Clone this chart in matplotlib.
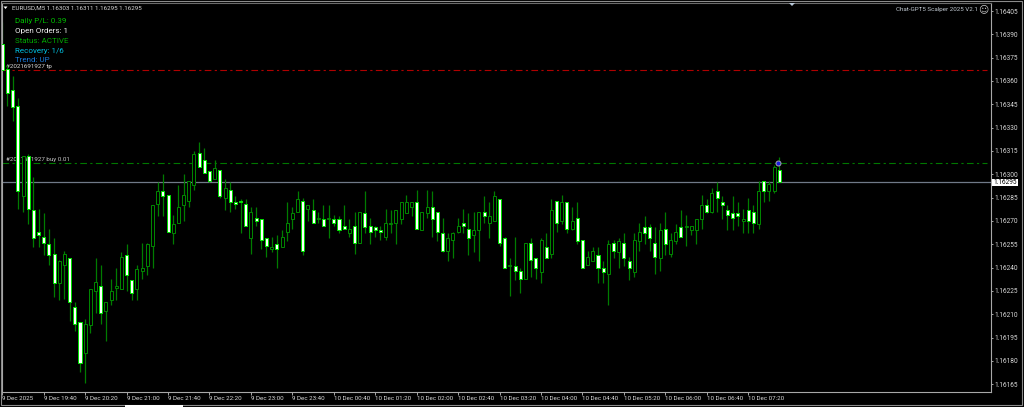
import matplotlib
matplotlib.use("Agg")
import matplotlib.pyplot as plt
from matplotlib.patches import Rectangle, Polygon

plt.rcParams["font.family"] = ["Roboto", "DejaVu Sans"]

# EURUSD M5 bars, in points above 1.16000
opens = [384, 368, 354, 344, 286, 312, 277, 263, 260, 255, 249, 230, 242, 246, 215, 205, 185, 203, 225, 228,
         212, 219, 227, 226, 248, 232, 226, 238, 241, 254, 281, 289, 287, 262, 269, 280, 283, 293, 314, 309,
         302, 297, 303, 285, 290, 282, 283, 281, 259, 272, 271, 259, 252, 255, 253, 263, 271, 276, 283, 278,
         277, 271, 271, 271, 271, 271, 267, 262, 267, 256, 275, 267, 266, 264, 260, 268, 269, 271, 275, 279,
         282, 264, 275, 279, 276, 262, 251, 258, 263, 269, 265, 261, 264, 276, 269, 270, 284, 259, 241, 241,
         238, 233, 256, 246, 237, 253, 249, 283, 270, 282, 265, 272, 258, 242, 244, 248, 240, 236, 256, 250,
         256, 244, 237, 257, 266, 266, 256, 246, 265, 249, 257, 266, 266, 264, 264, 271, 280, 276, 289, 282,
         277, 275, 275, 270, 277, 276, 268, 296, 289, 289, 303]
highs = [398, 370, 363, 349, 312, 313, 298, 278, 275, 265, 259, 245, 251, 246, 218, 205, 207, 226, 246, 242,
         218, 233, 240, 250, 255, 232, 242, 256, 256, 280, 295, 300, 287, 274, 293, 300, 296, 315, 321, 317,
         302, 309, 303, 297, 295, 286, 284, 284, 279, 279, 271, 259, 260, 261, 264, 282, 279, 289, 285, 280,
         284, 276, 280, 280, 274, 273, 280, 271, 276, 276, 289, 272, 267, 267, 278, 277, 277, 282, 287, 282,
         290, 276, 290, 289, 276, 272, 262, 263, 272, 278, 275, 276, 276, 286, 282, 289, 284, 260, 246, 260,
         240, 256, 259, 246, 259, 262, 284, 283, 287, 282, 279, 282, 258, 251, 253, 253, 244, 258, 258, 259,
         262, 247, 262, 269, 273, 268, 266, 269, 276, 262, 268, 277, 274, 267, 271, 287, 284, 291, 295, 286,
         280, 286, 282, 278, 285, 280, 296, 296, 296, 306, 311]
lows = [367, 344, 334, 278, 276, 268, 253, 253, 248, 242, 221, 219, 220, 206, 199, 173, 166, 198, 211, 204,
        193, 216, 219, 226, 225, 219, 219, 233, 235, 240, 273, 273, 263, 255, 269, 270, 279, 290, 305, 301,
        295, 297, 285, 277, 276, 278, 262, 267, 249, 267, 252, 247, 250, 240, 253, 257, 265, 276, 248, 270,
        269, 269, 267, 259, 267, 262, 265, 260, 249, 256, 262, 255, 260, 258, 258, 262, 255, 268, 275, 273,
        265, 264, 272, 260, 257, 250, 244, 246, 262, 262, 248, 250, 244, 269, 259, 270, 254, 240, 222, 232,
        224, 233, 234, 233, 230, 246, 246, 263, 268, 262, 264, 255, 240, 242, 244, 230, 230, 216, 246, 240,
        241, 232, 234, 251, 255, 251, 236, 238, 248, 247, 255, 260, 254, 261, 255, 265, 275, 275, 276, 271,
        264, 264, 267, 262, 262, 262, 265, 282, 283, 288, 295]
closes = [367, 352, 343, 289, 312, 278, 259, 261, 256, 248, 230, 244, 249, 218, 204, 179, 204, 226, 231, 211,
          218, 225, 228, 247, 235, 224, 239, 240, 255, 280, 289, 286, 263, 268, 279, 287, 296, 313, 305, 301,
          296, 304, 286, 291, 282, 281, 282, 267, 276, 270, 258, 254, 253, 252, 260, 269, 275, 284, 251, 280,
          269, 272, 267, 272, 269, 264, 265, 265, 256, 276, 266, 263, 264, 263, 269, 269, 277, 282, 282, 282,
          265, 276, 279, 271, 263, 251, 259, 262, 267, 267, 259, 264, 276, 273, 273, 286, 256, 240, 242, 238,
          233, 256, 245, 240, 258, 246, 277, 269, 282, 265, 270, 257, 240, 247, 251, 240, 237, 255, 251, 257,
          246, 240, 258, 263, 262, 259, 247, 264, 255, 258, 263, 260, 267, 267, 271, 280, 276, 288, 285, 280,
          274, 272, 273, 271, 270, 269, 289, 289, 294, 305, 295]

base_price = 1.16
price_ticks = [1.16405, 1.16390, 1.16375, 1.16360, 1.16345, 1.16330, 1.16315, 1.16300, 1.16285,
               1.16270, 1.16255, 1.16240, 1.16225, 1.16210, 1.16195, 1.16180, 1.16165]
time_ticks = [0, 8, 16, 24, 32, 40, 48, 56, 64, 72, 80, 88, 96, 104, 112, 120, 128, 136, 144]
time_labels = ["9 Dec 2025", "9 Dec 19:40", "9 Dec 20:20", "9 Dec 21:00", "9 Dec 21:40", "9 Dec 22:20",
               "9 Dec 23:00", "9 Dec 23:40", "10 Dec 00:40", "10 Dec 01:20", "10 Dec 02:00", "10 Dec 02:40",
               "10 Dec 03:20", "10 Dec 04:00", "10 Dec 04:40", "10 Dec 05:20", "10 Dec 06:00", "10 Dec 06:40",
               "10 Dec 07:20"]
tp_price = 1.16367
entry_price = 1.16307
last_price = 1.16295
panel_lines = ["Daily P/L: 0.39", "Open Orders: 1", "Status: ACTIVE", "Recovery: 1/6", "Trend: UP"]
panel_colors = ["#00c000", "#f0f0f0", "#00a800", "#00c0e0", "#1878d8"]

W, H = 1024, 407
fig = plt.figure(figsize=(W / 100, H / 100), dpi=100, facecolor="#000000")

# window frame and the white tab under the chart
fig.add_artist(Rectangle((0.5 / W, 1 - 405 / H), 1021.5 / W, 404.5 / H, transform=fig.transFigure,
                         facecolor="none", edgecolor="#8a8a8a", lw=0.8))
fig.add_artist(Rectangle((125 / W, 0), 58 / W, 2 / H, transform=fig.transFigure,
                         facecolor="#ffffff", edgecolor="none"))

# plot area in pixels of the image
L, R, T, B = 1.7, 990.7, 3.2, 391.6
ax = fig.add_axes([L / W, 1 - B / H, (R - L) / W, (B - T) / H], facecolor="#000000")

px_per_bar = 5.18
px_per_price = 1.5555 / 0.00001
ax.set_xlim((L - 2.3) / px_per_bar, (R - 2.3) / px_per_bar)
ax.set_ylim(1.16405 - (B - 11) / px_per_price, 1.16405 + (11 - T) / px_per_price)

for s in ["left", "right", "bottom", "top"]:
    ax.spines[s].set_color("#a8a8a8")
    ax.spines[s].set_linewidth(0.8)
ax.spines["top"].set_color("#6a6a6a")

# order lines and labels sit under the candles
dash = (0, (6, 3, 2, 3))
ax.axhline(tp_price, color="#b00000", lw=0.8, ls=dash, zorder=1, xmax=0.996)
ax.axhline(entry_price, color="#007800", lw=0.8, ls=dash, zorder=1, xmax=0.996)
ax.axhline(last_price, color="#707a88", lw=0.9, zorder=1)
ax.text(0.7, tp_price + 0.00001, "#2021691927 tp", color="#d8d8d8", fontsize=4.5, va="bottom", zorder=1)
ax.text(0.7, entry_price + 0.00001, "#2021691927 buy 0.01", color="#c8c8c8", fontsize=4.5, va="bottom", zorder=1)

# candles
body_w = 0.58
for i in range(len(closes)):
    o = base_price + opens[i] / 1e5
    h = base_price + highs[i] / 1e5
    l = base_price + lows[i] / 1e5
    c = base_price + closes[i] / 1e5
    if closes[i] >= opens[i]:
        face, edge = "#000000", "#008400"
    else:
        face, edge = "#ffffff", "#00e000"
    ax.vlines(i, l, h, color="#007c00", lw=0.9, zorder=2)
    ax.add_patch(Rectangle((i - body_w / 2, min(o, c)), body_w, abs(c - o), facecolor=face,
                           edgecolor=edge, lw=0.72, zorder=3))

# order arrow at the last bar
ax.plot([len(closes) - 1.3], [entry_price], "o", ms=3.6, mfc="#1a1ae0", mec="#a0a0b0", mew=0.7, zorder=5)

ax.set_yticks(price_ticks)
ax.set_yticklabels([f"{p:.5f}" for p in price_ticks])
ax.yaxis.tick_right()
ax.tick_params(axis="y", labelcolor="#d8d8d8", labelsize=4.7, length=1.5, width=0.7, pad=1.5, color="#a8a8a8")
ax.set_xticks(time_ticks)
ax.set_xticklabels(time_labels, ha="left")
ax.tick_params(axis="x", labelcolor="#d8d8d8", labelsize=4.5, length=2, width=0.7, pad=1, color="#a8a8a8")

# last price tag
fig.add_artist(Rectangle((992 / W, 1 - 186 / H), 26 / W, 7.3 / H, transform=fig.transFigure,
                         facecolor="#ffffff", edgecolor="none"))
fig.text(1005 / W, 1 - 182.5 / H, f"{last_price:.5f}", color="#000000", fontsize=4.7, ha="center", va="center")

# header and panel text
fig.text(12 / W, 1 - 8 / H, "EURUSD,M5 1.16303 1.16311 1.16295 1.16295", color="#d8d8d8", fontsize=4.5, va="center")
fig.add_artist(Polygon([[3.5 / W, 1 - 6.5 / H], [7.5 / W, 1 - 6.5 / H], [5.5 / W, 1 - 9 / H]],
                       transform=fig.transFigure, facecolor="#ffffff", edgecolor="none"))
fig.add_artist(Polygon([[789 / W, 1 - 3 / H], [795 / W, 1 - 3 / H], [792 / W, 1 - 6 / H]],
                       transform=fig.transFigure, facecolor="#b8c8d8", edgecolor="none"))
for n, (line, col) in enumerate(zip(panel_lines, panel_colors)):
    fig.text(15 / W, 1 - (21.5 + 9.7 * n) / H, line, color=col, fontsize=5.8, va="center")
fig.text(978 / W, 1 - 9 / H, "Chat-GPT5 Scalper 2025 V2.1", color="#c0c8d0", fontsize=4.5, ha="right", va="center")
fig.text(983.5 / W, 1 - 9 / H, "\u263a", color="#c8c8c8", fontsize=7, ha="center", va="center",
         family=["DejaVu Sans"])

fig.savefig("out.png", dpi=100, facecolor=fig.get_facecolor())
